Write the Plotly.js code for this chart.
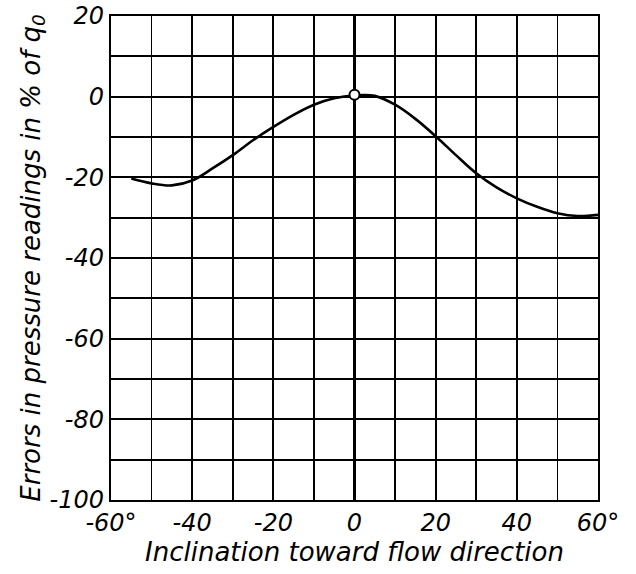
<!DOCTYPE html>
<html>
<head>
<meta charset="utf-8">
<script src="https://cdn.plot.ly/plotly-3.0.1.min.js"></script>
<style>html,body{margin:0;padding:0;background:#fff;}</style>
</head>
<body>
<div id="chart" style="width:636px;height:574px;"></div>
<script>
var inclination = [-55, -50, -45, -40, -35, -30, -25, -20, -15, -10, -5, 0, 5, 10, 15, 20, 25, 30, 35, 40, 45, 50, 55, 60];
var errorPct   = [-20.3, -21.5, -22.0, -20.8, -17.8, -14.5, -10.8, -7.5, -4.5, -2.0, -0.4, 0.3, 0.2, -2.0, -5.5, -9.8, -14.5, -19.0, -22.5, -25.2, -27.3, -28.9, -29.6, -29.3];
var pointX = [0];
var pointY = [0.5];
var xTickVals = [-60, -40, -20, 0, 20, 40, 60];
var xTickText = ['-60°', '-40', '-20', '0', '20', '40', '60°'];
var yTickVals = [20, 0, -20, -40, -60, -80, -100];
var yTickText = ['20', '0', '-20', '-40', '-60', '-80', '-100'];

var tickFnt = {family: 'DejaVu Sans, sans-serif', size: 24, color: '#000', style: 'italic'};
var titleFnt = {family: 'DejaVu Sans, sans-serif', size: 26, color: '#000', style: 'italic'};

var traces = [
  {x: inclination, y: errorPct, mode: 'lines', line: {color: '#000', width: 2.6, shape: 'spline', smoothing: 1}, hoverinfo: 'skip'},
  {x: pointX, y: pointY, mode: 'markers', marker: {size: 10, color: '#fff', line: {color: '#000', width: 2}}, hoverinfo: 'skip'}
];

var layout = {
  width: 636, height: 574,
  margin: {l: 111, r: 38, t: 16, b: 74},
  paper_bgcolor: '#fff', plot_bgcolor: '#fff',
  showlegend: false,
  xaxis: {
    range: [-60, 60],
    showgrid: true, gridcolor: '#000', gridwidth: 1.8,
    zeroline: true, zerolinecolor: '#000', zerolinewidth: 2.4,
    showline: true, linecolor: '#000', linewidth: 2.2, mirror: true,
    tickmode: 'array', tickvals: xTickVals, ticktext: xTickText,
    ticks: '', tickfont: tickFnt, automargin: false,
    minor: {tickmode: 'linear', tick0: 0, dtick: 10, showgrid: true, gridcolor: '#000', gridwidth: 1.8},
    title: {text: 'Inclination toward flow direction', font: titleFnt, standoff: 4}
  },
  yaxis: {
    range: [-100, 20],
    showgrid: true, gridcolor: '#000', gridwidth: 1.8,
    zeroline: false,
    showline: true, linecolor: '#000', linewidth: 2.2, mirror: true,
    tickmode: 'array', tickvals: yTickVals, ticktext: yTickText,
    ticks: '', tickfont: tickFnt, automargin: false,
    minor: {tickmode: 'linear', tick0: 0, dtick: 10, showgrid: true, gridcolor: '#000', gridwidth: 1.8},
    title: {text: 'Errors in pressure readings in % of q<sub>0</sub>', font: titleFnt, standoff: 2}
  }
};

Plotly.newPlot('chart', traces, layout, {displayModeBar: false, staticPlot: true});
</script>
</body>
</html>
